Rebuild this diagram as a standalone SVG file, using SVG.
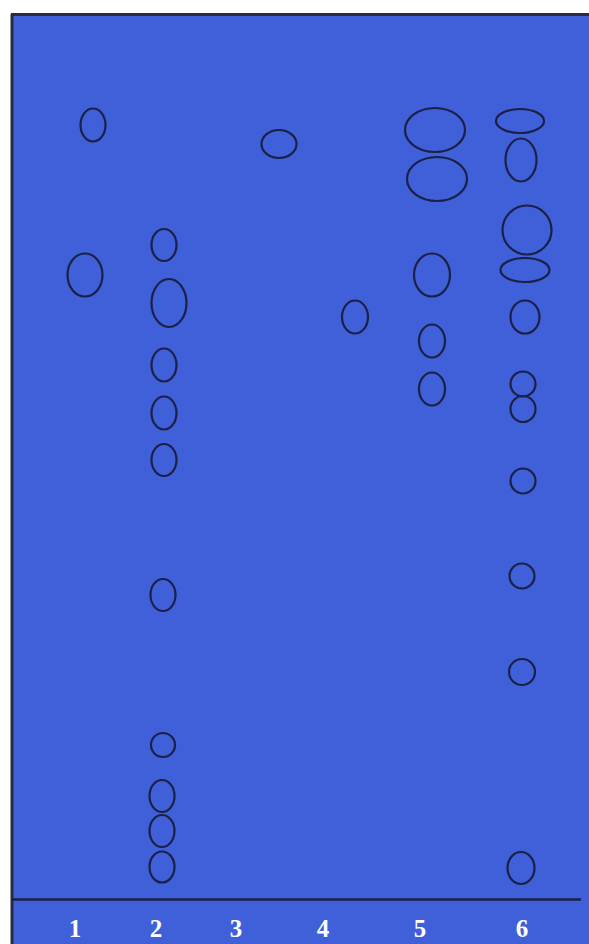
<svg xmlns="http://www.w3.org/2000/svg" width="589" height="944" viewBox="0 0 589 944">
  <style>
    .spot { fill: none; stroke: #1b2046; stroke-width: 2.2; }
    .lbl { font-family: "Liberation Serif", "Times New Roman", serif; font-weight: bold; font-size: 25px; fill: #ffffff; text-anchor: middle; }
  </style>
  <rect x="0" y="0" width="589" height="944" fill="#ffffff"/>
  <rect id="plate" x="11" y="14" width="578" height="930" fill="#3f60d8"/>
  <line x1="12" y1="14" x2="12" y2="944" stroke="#2a2a40" stroke-width="3"/>
  <line x1="11" y1="14.5" x2="589" y2="14.5" stroke="#2a2a40" stroke-width="3"/>
  <line id="baseline" x1="12" y1="899.5" x2="581" y2="899.5" stroke="#1c2145" stroke-width="2.5"/>
  <g id="lane1">
    <ellipse class="spot" cx="93" cy="125" rx="12.5" ry="16.5"/>
    <ellipse class="spot" cx="85" cy="275" rx="17.5" ry="21.5"/>
  </g>
  <g id="lane2">
    <ellipse class="spot" cx="164" cy="245" rx="12.5" ry="16"/>
    <ellipse class="spot" cx="169" cy="303" rx="17.5" ry="24"/>
    <ellipse class="spot" cx="164" cy="365" rx="12.5" ry="16.5"/>
    <ellipse class="spot" cx="164" cy="413" rx="12.5" ry="16.5"/>
    <ellipse class="spot" cx="164" cy="460" rx="12.5" ry="16"/>
    <ellipse class="spot" cx="163" cy="595" rx="12.5" ry="16"/>
    <ellipse class="spot" cx="163" cy="745" rx="12" ry="12"/>
    <ellipse class="spot" cx="162" cy="796" rx="12.5" ry="16"/>
    <ellipse class="spot" cx="162" cy="831" rx="12.5" ry="16"/>
    <ellipse class="spot" cx="162" cy="867" rx="12.5" ry="15.5"/>
  </g>
  <g id="lane3">
    <ellipse class="spot" cx="279" cy="144" rx="17.5" ry="14"/>
  </g>
  <g id="lane4">
    <ellipse class="spot" cx="355" cy="317" rx="13" ry="16.5"/>
  </g>
  <g id="lane5">
    <ellipse class="spot" cx="435" cy="130" rx="30" ry="22"/>
    <ellipse class="spot" cx="437" cy="179" rx="30" ry="22"/>
    <ellipse class="spot" cx="432" cy="275" rx="18" ry="21.5"/>
    <ellipse class="spot" cx="432" cy="341" rx="13" ry="16.5"/>
    <ellipse class="spot" cx="432" cy="389" rx="13" ry="16.5"/>
  </g>
  <g id="lane6">
    <ellipse class="spot" cx="520" cy="121" rx="24" ry="12"/>
    <ellipse class="spot" cx="521" cy="160" rx="15.5" ry="21.5"/>
    <ellipse class="spot" cx="527" cy="230" rx="24.5" ry="24.5"/>
    <ellipse class="spot" cx="525" cy="270" rx="24.5" ry="12"/>
    <ellipse class="spot" cx="525" cy="317" rx="14.5" ry="16.5"/>
    <ellipse class="spot" cx="523" cy="384" rx="12.5" ry="12.5"/>
    <ellipse class="spot" cx="523" cy="409" rx="12.5" ry="13"/>
    <ellipse class="spot" cx="523" cy="481" rx="12.5" ry="12.5"/>
    <ellipse class="spot" cx="522" cy="576" rx="12.5" ry="12.5"/>
    <ellipse class="spot" cx="522" cy="672" rx="13" ry="13"/>
    <ellipse class="spot" cx="521" cy="868" rx="13.5" ry="16"/>
  </g>
  <g id="labels">
    <text class="lbl" x="75" y="937">1</text>
    <text class="lbl" x="156" y="937">2</text>
    <text class="lbl" x="236" y="937">3</text>
    <text class="lbl" x="323" y="937">4</text>
    <text class="lbl" x="420" y="937">5</text>
    <text class="lbl" x="522" y="937">6</text>
  </g>
</svg>
